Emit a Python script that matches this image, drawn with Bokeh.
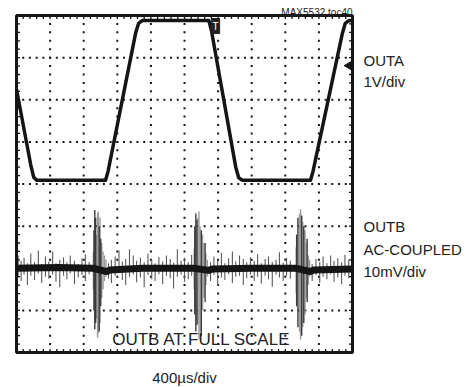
import math
import numpy as np
from bokeh.plotting import figure
from bokeh.models import Range1d
from bokeh.core.properties import value
from bokeh.embed import file_html
from bokeh.resources import INLINE

# ---------------- data (time in µs, vertical in divisions) ----------------
x_ticks = [0, 400, 800, 1200, 1600, 2000, 2400, 2800, 3200, 3600, 4000]
y_ticks = [-4, -3, -2, -1, 0, 1, 2, 3, 4]

# OUTA trace (1V/div)
outa_t = [0, 170, 205, 240, 1060, 1090, 1420, 1455, 1500,
          2290, 2320, 2610, 2645, 2690, 3500, 3530, 3880, 3915, 3960, 4000]
outa_y = [2.25, 0.45, 0.16, 0.09, 0.09, 0.30, 3.60, 3.82, 3.88,
          3.88, 3.65, 0.40, 0.15, 0.09, 0.09, 0.30, 3.58, 3.82, 3.88, 3.88]

# OUTB trace (AC coupled, 10mV/div), baseline position
outb_offset = -2.0
outb_t = [0, 500, 910, 1075, 1110, 1500, 2110, 2290, 2330, 2800, 3325, 3500, 3540, 4000]
outb_y = [0.0, 0.02, 0.0, -0.08, -0.04, 0.0, 0.0, -0.05, -0.02, 0.0, 0.0, -0.08, -0.04, -0.02]

noise_t = [
    20, 55, 90, 130, 170, 215, 260, 300, 345, 385,
    430, 470, 515, 560, 600, 640, 690, 735, 780, 820,
    865, 1095, 1130, 1175, 1220, 1260, 1300, 1345, 1390, 1430,
    1475, 1520, 1565, 1610, 1650, 1695, 1740, 1785, 1830, 1870,
    1915, 1960, 2000, 2045, 2085, 2310, 2350, 2395, 2440, 2480,
    2525, 2570, 2610, 2655, 2700, 2740, 2785, 2830, 2870, 2915,
    2960, 3000, 3045, 3090, 3130, 3175, 3215, 3260, 3520, 3565,
    3610, 3650, 3695, 3740, 3780, 3825, 3870, 3910, 3955, 3990,
]
noise_hi = [
    0.30, 0.18, 0.25, 0.12, 0.35, 0.15, 0.42, 0.10, 0.28, 0.16,
    0.40, 0.12, 0.20, 0.26, 0.14, 0.30, 0.18, 0.10, 0.24, 0.33,
    0.15, 0.12, 0.20, 0.28, 0.42, 0.16, 0.22, 0.45, 0.30, 0.18,
    0.25, 0.14, 0.35, 0.20, 0.12, 0.27, 0.16, 0.30, 0.22, 0.13,
    0.45, 0.18, 0.25, 0.15, 0.32, 0.14, 0.28, 0.20, 0.36, 0.12,
    0.24, 0.40, 0.16, 0.30, 0.22, 0.14, 0.26, 0.18, 0.34, 0.12,
    0.22, 0.28, 0.15, 0.20, 0.38, 0.13, 0.25, 0.18, 0.10, 0.22,
    0.15, 0.28, 0.12, 0.30, 0.18, 0.24, 0.14, 0.32, 0.20, 0.16,
]
noise_lo = [
    -0.22, -0.30, -0.15, -0.40, -0.18, -0.28, -0.12, -0.35, -0.20, -0.25,
    -0.15, -0.32, -0.45, -0.18, -0.26, -0.12, -0.38, -0.22, -0.16, -0.30,
    -0.14, -0.25, -0.35, -0.18, -0.12, -0.28, -0.40, -0.20, -0.15, -0.33,
    -0.22, -0.45, -0.16, -0.26, -0.30, -0.14, -0.38, -0.18, -0.24, -0.48,
    -0.20, -0.15, -0.32, -0.26, -0.18, -0.30, -0.16, -0.42, -0.22, -0.28,
    -0.14, -0.35, -0.20, -0.18, -0.40, -0.24, -0.15, -0.30, -0.20, -0.36,
    -0.18, -0.26, -0.44, -0.15, -0.22, -0.30, -0.18, -0.25, -0.30, -0.16,
    -0.35, -0.20, -0.26, -0.14, -0.32, -0.22, -0.38, -0.18, -0.24, -0.28,
]

burst_dark_t = [922, 932, 942, 985, 1003, 2122, 2135, 2148, 2200, 2245, 3335, 3350, 3395, 3420, 3460]
burst_dark_hi = [0.9, 1.38, 1.2, 1.0, 0.7, 1.0, 1.3, 1.15, 0.9, 0.6, 0.8, 1.2, 1.25, 1.0, 0.7]
burst_dark_lo = [-1.0, -1.45, -1.3, -1.5, -0.9, -1.1, -1.5, -1.35, -1.6, -0.8, -0.9, -1.4, -1.6, -1.3, -0.8]

burst_grey_t = [915, 955, 965, 975, 995, 1015, 1030, 1048, 1065,
                2115, 2160, 2172, 2185, 2215, 2230, 2255, 2272,
                3330, 3370, 3382, 3408, 3435, 3448, 3475, 3490]
burst_grey_hi = [0.4, 0.8, 1.3, 1.35, 1.2, 0.6, 0.4, 0.3, 0.2,
                 0.45, 1.2, 1.35, 1.0, 0.8, 0.6, 0.35, 0.2,
                 0.5, 1.3, 1.4, 1.1, 0.9, 0.6, 0.3, 0.2]
burst_grey_lo = [-0.5, -1.2, -1.65, -1.55, -1.3, -0.7, -0.5, -0.3, -0.2,
                 -0.5, -1.3, -1.69, -1.5, -1.0, -0.7, -0.4, -0.2,
                 -0.6, -1.5, -1.69, -1.4, -1.1, -0.7, -0.4, -0.2]

# scope markers
trig_t, trig_y = 2370, 3.75
arrow_t, arrow_y = 3955, 2.81

FONT = "Liberation Sans"
INK = "#151515"

# ---------------- figure (frame spans the whole canvas) ----------------
W, H = 473, 387
US_PER_PX = 4000 / 336.0
PX_PER_DIV = 337 / 8.0
x0_px, y0_px = 16, 15           # graticule top-left inside canvas
x_rng = Range1d(-x0_px * US_PER_PX, (W - x0_px) * US_PER_PX)
y_rng = Range1d(-4 - (H - y0_px - 337) / PX_PER_DIV, 4 + y0_px / PX_PER_DIV)

p = figure(width=W, height=H, x_range=x_rng, y_range=y_rng,
           output_backend="svg", toolbar_location=None,
           x_axis_location=None, y_axis_location=None,
           min_border=0, min_border_left=0, min_border_right=0,
           min_border_top=0, min_border_bottom=0,
           background_fill_color="white", border_fill_color="white")
p.outline_line_color = None
p.xgrid.visible = False
p.ygrid.visible = False

x_minor = [i * 80 for i in range(51)]
y_minor = [-4 + 0.2 * i for i in range(41)]

# dotted graticule: dots at every minor step along each major division line
gx, gy = [], []
for xt in x_ticks[1:-1]:
    for ym_ in y_minor[1:-1]:
        gx.append(xt); gy.append(ym_)
for yt in y_ticks[1:-1]:
    for xm_ in x_minor[1:-1]:
        gx.append(xm_); gy.append(yt)
p.scatter(gx, gy, marker="square", size=2, fill_color=INK, line_color=None)

# OUTB noise & bursts
nt = np.array(noise_t, dtype=float)
p.segment(x0=nt, y0=outb_offset + np.array(noise_lo), x1=nt, y1=outb_offset + np.array(noise_hi),
          line_color="#5a5a5a", line_width=1.1)
gt = np.array(burst_grey_t, dtype=float)
p.segment(x0=gt, y0=outb_offset + np.array(burst_grey_lo), x1=gt, y1=outb_offset + np.array(burst_grey_hi),
          line_color="#9a9a9a", line_width=1.4)
dt = np.array(burst_dark_t, dtype=float)
p.segment(x0=dt, y0=outb_offset + np.array(burst_dark_lo), x1=dt, y1=outb_offset + np.array(burst_dark_hi),
          line_color="#3a3a3a", line_width=1.4)
p.line(outb_t, outb_offset + np.array(outb_y), line_color=INK, line_width=7)

# OUTA
p.line(outa_t, outa_y, line_color=INK, line_width=3.5, line_join="round")

# graticule border and inner tick marks
tick_x = 3.5 * US_PER_PX
tick_y = 3.5 / PX_PER_DIV
xm = np.array(x_minor[1:-1], dtype=float)
ym = np.array(y_minor[1:-1], dtype=float)
p.segment(x0=np.concatenate([xm, xm]), y0=np.concatenate([np.full(len(xm), -4.0), np.full(len(xm), 4.0)]),
          x1=np.concatenate([xm, xm]), y1=np.concatenate([np.full(len(xm), -4 + tick_y), np.full(len(xm), 4 - tick_y)]),
          line_color=INK, line_width=1.3)
p.segment(x0=np.concatenate([np.zeros(len(ym)), np.full(len(ym), 4000.0)]), y0=np.concatenate([ym, ym]),
          x1=np.concatenate([np.full(len(ym), tick_x), np.full(len(ym), 4000 - tick_x)]), y1=np.concatenate([ym, ym]),
          line_color=INK, line_width=1.3)
p.rect(x=[2000], y=[0], width=4000, height=8, fill_color=None, line_color=INK, line_width=3)

# trigger marker and ground arrow
p.rect(x=[trig_t], y=[trig_y], width=8, height=15, width_units="screen", height_units="screen",
       fill_color="#222222", line_color="#222222")
p.text(x=[trig_t], y=[trig_y], text=["T"], text_color="white", text_font_size="10px",
       text_align="center", text_baseline="middle", text_font=value(FONT))
p.scatter(x=[arrow_t], y=[arrow_y], marker="triangle", size=8, angle=math.pi / 2,
          fill_color=INK, line_color=INK)

# texts
def lab(x, y, t, size="15px", align="left"):
    p.text(x=[x], y=[y], text=[t], text_font=value(FONT), text_font_size=size,
           text_color="#222222", text_align=align, text_baseline="alphabetic")

lab(4131, 2.93, "OUTA")
lab(4131, 2.44, "1V/div")
lab(4131, -1.0, "OUTB")
lab(4131, -1.555, "AC-COUPLED")
lab(4131, -2.07, "10mV/div")
lab(1139, -3.70, "OUTB AT FULL SCALE", size="17px")
lab(2000, -4.60, "400µs/div", align="center")
lab(4000, 4.07, "MAX5532 toc40", size="10px", align="right")

open("out.html", "w").write(file_html(p, INLINE))
